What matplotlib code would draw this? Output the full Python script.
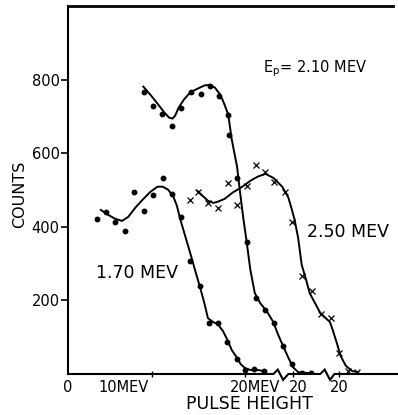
import matplotlib
matplotlib.use('Agg')
import matplotlib.pyplot as plt

# pulse height read on the first (1.70 MeV) scale, counts on the y axis
# --- 1.70 MeV: measured points and the hand-drawn curve
x170_pts = [3.3, 4.3, 5.3, 6.4, 7.5, 8.6, 9.6, 10.7, 11.8, 12.8, 13.8, 14.9, 15.9,
            16.9, 18.0, 19.1, 20.0, 21.0, 22.1]
y170_pts = [422, 441, 414, 389, 495, 444, 487, 533, 490, 427, 307, 239, 139,
            139, 87, 41, 11, 14, 8]
x170_fit = [3.7, 4.5, 5.3, 6.1, 6.8, 7.6, 8.4, 9.3, 10.1, 10.7, 11.3, 11.9, 12.3,
            12.7, 13.2, 13.8, 14.4, 14.9, 15.4, 15.8, 16.4, 16.9, 17.5, 18.0, 18.5,
            19.1, 19.5, 20.0, 20.6, 21.4, 22.1]
y170_fit = [446, 433, 422, 416, 427, 452, 473, 495, 509, 509, 501, 482, 457,
            419, 378, 329, 278, 237, 193, 152, 141, 136, 117, 93, 65,
            44, 27, 16, 11, 11, 8]

# --- 2.10 MeV
x210_pts = [8.6, 9.6, 10.6, 11.8, 12.8, 13.9, 15.0, 16.0, 17.1, 18.1, 18.2, 19.1,
            20.2, 21.2, 22.3, 23.3, 24.3, 25.3, 26.4, 27.5]
y210_pts = [767, 729, 707, 675, 724, 767, 762, 784, 756, 705, 650, 533,
            359, 207, 174, 139, 76, 27, 3, 3]
x210_fit = [8.5, 9.3, 10.1, 10.8, 11.4, 11.8, 12.1, 12.5, 13.1, 13.8, 14.6, 15.4,
            16.0, 16.6, 17.2, 17.6, 18.1, 18.5, 19.1, 19.4, 19.8, 20.2, 20.6, 21.1,
            21.7, 22.5, 23.2, 23.7, 24.3, 24.9, 25.4, 26.0, 26.8, 27.5]
y210_fit = [781, 759, 735, 713, 697, 694, 702, 724, 746, 765, 775, 784,
            786, 778, 759, 737, 705, 637, 563, 501, 424, 356, 283, 220,
            193, 169, 141, 109, 76, 44, 19, 5, 3, 3]

# --- 2.50 MeV
x250_pts = [13.8, 14.7, 15.8, 16.9, 18.1, 19.1, 20.2, 21.2, 22.3, 23.3, 24.5, 25.3,
            26.4, 27.6, 28.6, 29.7, 30.6, 31.6, 32.7]
y250_pts = [473, 495, 465, 452, 520, 460, 512, 569, 550, 522, 495, 414,
            267, 226, 163, 152, 57, 8, 5]
x250_fit = [14.6, 15.3, 15.8, 16.4, 16.9, 17.7, 18.6, 19.7, 20.6, 21.4, 22.3, 23.2,
            24.2, 24.9, 25.3, 25.6, 26.0, 26.4, 26.9, 27.3, 27.9, 28.5, 29.2, 29.6,
            29.9, 30.4, 30.8, 31.4, 32.1, 32.8]
y250_fit = [498, 482, 471, 465, 468, 476, 493, 509, 525, 536, 544, 533,
            509, 479, 446, 419, 370, 297, 256, 220, 193, 166, 150, 141,
            120, 82, 49, 22, 8, 5]

y_ticks = [200, 400, 600, 800]

fig = plt.figure(figsize=(3.98, 4.15), dpi=100)
ax = fig.add_axes([0.171, 0.0988, 0.816, 0.8867])

lw = 1.4
ax.plot(x170_fit, y170_fit, color='black', lw=lw)
ax.plot(x170_pts, y170_pts, 'o', color='black', ms=3.2)
ax.plot(x210_fit, y210_fit, color='black', lw=lw)
ax.plot(x210_pts, y210_pts, 'o', color='black', ms=3.2)
ax.plot(x250_fit, y250_fit, color='black', lw=lw)
ax.plot(x250_pts, y250_pts, 'x', color='black', ms=4, mew=0.9)

ax.set_xlim(0, 36.7)
ax.set_ylim(0, 1000)

# axis frame: left and top only, baseline drawn with the scale breaks
ax.spines['right'].set_visible(False)
ax.spines['bottom'].set_visible(False)
ax.spines['left'].set_linewidth(1.5)
ax.spines['top'].set_linewidth(2.0)
base_x = [0, 23.2, 23.7, 24.3, 24.9, 28.5, 29.0, 29.6, 30.1, 37.3]
base_y = [0, 0, 12, -16, 0, 0, 12, -16, 0, 0]
ax.plot(base_x, base_y, color='black', lw=1.5, clip_on=False, solid_joinstyle='miter')

ax.set_yticks(y_ticks)
ax.set_yticklabels([str(v) for v in y_ticks], fontsize=10.5)
ax.tick_params(axis='y', direction='out', length=5, width=1.2, pad=1)
ax.set_xticks([9.5, 20, 25.4, 30.6])
ax.set_xticklabels([])
ax.tick_params(axis='x', direction='inout', length=5, width=1.0, bottom=True)

# x scale labels (staggered scales)
lab_kw = dict(fontsize=10.5, va='center', clip_on=False)
ax.text(0, -38, '0', ha='center', **lab_kw)
ax.text(3.4, -38, '10MEV', ha='left', **lab_kw)
ax.text(18.3, -38, '20MEV', ha='left', **lab_kw)
ax.text(26.0, -38, '20', ha='center', **lab_kw)
ax.text(30.6, -38, '20', ha='center', **lab_kw)
ax.text(20.5, -82, 'PULSE HEIGHT', ha='center', va='center', fontsize=12.5, clip_on=False)
fig.text(20 / 398, 1 - 194 / 415, 'COUNTS', rotation=90, ha='center', va='center', fontsize=11.5)

# curve labels
ax.text(22.0, 830, r'E$_\mathrm{p}$= 2.10 MEV', ha='left', va='center', fontsize=10.5)
ax.text(31.6, 386, '2.50 MEV', ha='center', va='center', fontsize=12.5)
ax.text(7.8, 275, '1.70 MEV', ha='center', va='center', fontsize=12.5)

fig.savefig('out.png', dpi=100)
